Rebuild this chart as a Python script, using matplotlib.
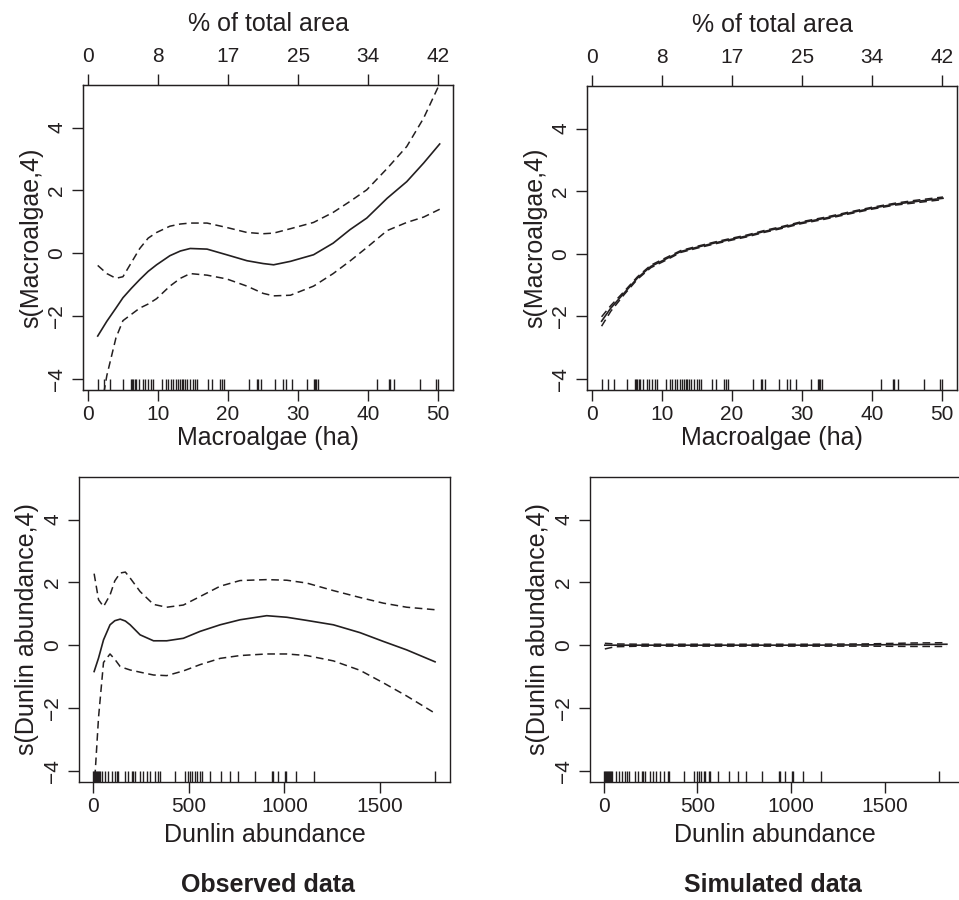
import matplotlib
matplotlib.use('Agg')
import matplotlib.pyplot as plt
import numpy as np

plt.rcParams['font.family'] = ['Liberation Sans', 'DejaVu Sans']
INK = '#231f20'

# Rug positions (shared by observed and simulated panels)
macro_rug = [1.4, 2.3, 3.1, 5.0, 6.1, 6.3, 6.5, 6.7, 6.9, 7.3, 7.8, 8.1, 8.6, 9.0, 9.3,
             10.6, 11.2, 11.5, 11.8, 12.2, 12.5, 12.9, 13.1, 13.4, 13.6, 13.9, 14.1,
             14.5, 15.0, 15.3, 15.5, 17.2, 17.7, 18.9, 19.2, 19.4, 23.0, 24.1, 24.3,
             24.7, 26.7, 27.8, 28.3, 29.1, 31.2, 32.2, 32.4, 32.6, 32.8, 41.2, 42.9,
             43.1, 43.7, 47.4, 49.7, 49.95]
dunlin_rug = [3, 8, 12, 17, 22, 27, 33, 38, 47, 64, 81, 99, 116, 125, 134, 169, 186,
              204, 212, 221, 247, 264, 282, 299, 325, 343, 351, 429, 481, 499, 508,
              517, 534, 543, 560, 569, 612, 668, 717, 760, 847, 935, 943, 969, 1004,
              1009, 1061, 1157, 1787]

# Observed data - macroalgae smooth
obs_macro_x = [1.4, 2.7, 4.0, 5.0, 6.2, 7.4, 8.6, 9.8, 11.7, 13.2, 14.6, 17.0, 19.8,
               22.7, 25.0, 26.5, 28.9, 32.2, 35.0, 37.4, 39.8, 42.7, 45.5, 47.9, 50.2]
obs_macro_fit = [-2.64, -2.17, -1.75, -1.42, -1.12, -0.84, -0.58, -0.37, -0.08, 0.07,
                 0.15, 0.13, -0.05, -0.24, -0.33, -0.37, -0.26, -0.05, 0.32, 0.75,
                 1.12, 1.75, 2.28, 2.87, 3.48]
obs_macro_up = [-0.39, -0.65, -0.80, -0.75, -0.30, 0.15, 0.48, 0.66, 0.86, 0.93, 0.96,
                0.96, 0.82, 0.66, 0.62, 0.64, 0.78, 0.98, 1.30, 1.65, 2.02, 2.70, 3.40,
                4.30, 5.40]
obs_macro_lo = [-5.6, -3.9, -2.7, -2.15, -1.95, -1.75, -1.62, -1.45, -1.05, -0.80,
                -0.65, -0.70, -0.82, -1.05, -1.28, -1.36, -1.34, -1.05, -0.65, -0.25,
                0.18, 0.72, 0.98, 1.15, 1.40]

# Simulated data - macroalgae smooth
sim_macro_x = [1.38, 2.7, 4.6, 6.5, 8.4, 10.3, 12.7, 15.1, 17.5, 19.9, 22.2, 24.6, 27.0,
               29.9, 33.2, 36.5, 39.9, 43.2, 46.0, 50.1]
sim_macro_fit = [-2.16, -1.74, -1.26, -0.78, -0.41, -0.20, 0.07, 0.21, 0.34, 0.46, 0.57,
                 0.71, 0.83, 0.99, 1.13, 1.29, 1.45, 1.58, 1.66, 1.77]
sim_macro_up = [-2.02, -1.66, -1.21, -0.74, -0.37, -0.16, 0.10, 0.24, 0.37, 0.49, 0.60,
                0.74, 0.86, 1.02, 1.16, 1.32, 1.48, 1.61, 1.70, 1.81]
sim_macro_lo = [-2.32, -1.84, -1.31, -0.82, -0.45, -0.24, 0.04, 0.18, 0.31, 0.43, 0.54,
                0.68, 0.80, 0.96, 1.10, 1.26, 1.42, 1.55, 1.62, 1.73]

# Observed data - dunlin smooth
obs_dun_x = [7, 30, 56, 90, 115, 143, 170, 195, 247, 317, 386, 473, 560, 665, 769, 908,
             1013, 1117, 1256, 1395, 1517, 1639, 1787]
obs_dun_fit = [-0.84, -0.41, 0.17, 0.65, 0.78, 0.83, 0.77, 0.65, 0.33, 0.14, 0.14, 0.22,
               0.44, 0.65, 0.81, 0.94, 0.89, 0.79, 0.65, 0.40, 0.12, -0.15, -0.53]
obs_dun_up = [2.28, 1.45, 1.23, 1.60, 2.05, 2.30, 2.33, 2.14, 1.71, 1.30, 1.21, 1.28,
              1.55, 1.88, 2.06, 2.09, 2.07, 1.98, 1.74, 1.52, 1.34, 1.21, 1.13]
obs_dun_lo = [-4.6, -2.3, -0.55, -0.28, -0.45, -0.68, -0.74, -0.79, -0.86, -0.95, -0.97,
              -0.82, -0.62, -0.42, -0.33, -0.28, -0.28, -0.33, -0.50, -0.80, -1.20,
              -1.62, -2.17]

# Simulated data - dunlin smooth
sim_dun_x = [7, 60, 200, 500, 800, 1100, 1400, 1650, 1830]
sim_dun_fit = [0.0, 0.0, 0.0, 0.0, 0.0, 0.0, 0.01, 0.02, 0.03]
sim_dun_up = [0.06, 0.04, 0.03, 0.03, 0.03, 0.03, 0.04, 0.07, 0.08]
sim_dun_lo = [-0.12, -0.05, -0.03, -0.03, -0.03, -0.03, -0.03, -0.04, -0.04]

macro_ticks = [0, 10, 20, 30, 40, 50]
pct_labels = ['0', '8', '17', '25', '34', '42']
dunlin_ticks = [0, 500, 1000, 1500]
y_ticks = [-4, -2, 0, 2, 4]

W, H = 959, 900
LABEL_FS = 18
TICK_FS = 15
fig = plt.figure(figsize=(W / 100, H / 100), dpi=100)


def style_axes(ax):
    for sp in ax.spines.values():
        sp.set_color(INK)
        sp.set_linewidth(1.0)
    ax.tick_params(axis='x', direction='out', length=8, width=1.0, color=INK,
                   labelsize=TICK_FS, labelcolor=INK, pad=3)
    ax.tick_params(axis='y', direction='out', length=8, width=1.0, color=INK,
                   labelsize=TICK_FS, labelcolor=INK, pad=4, labelrotation=90)
    for lab in ax.get_yticklabels():
        lab.set_verticalalignment('center')
    ax.set_ylim(-4.36, 5.36)
    ax.set_yticks(y_ticks)


def draw_smooth(ax, x, fit, up, lo, rug):
    ax.plot(x, fit, color=INK, lw=1.2)
    ax.plot(x, up, color=INK, lw=1.1, ls=(0, (5, 3)))
    ax.plot(x, lo, color=INK, lw=1.1, ls=(0, (5, 3)))
    ax.vlines(rug, 0, 0.036, transform=ax.get_xaxis_transform(), color=INK, lw=1.0)


def macro_panel(rect, x, fit, up, lo):
    ax = fig.add_axes(rect)
    draw_smooth(ax, x, fit, up, lo, macro_rug)
    style_axes(ax)
    ax.set_xlim(-0.7, 52.1)
    ax.set_xticks(macro_ticks)
    ax.set_xlabel('Macroalgae (ha)', fontsize=LABEL_FS, color=INK, labelpad=1)
    ax.set_ylabel('s(Macroalgae,4)', fontsize=LABEL_FS, color=INK, labelpad=3)
    top = ax.twiny()
    top.set_xlim(ax.get_xlim())
    top.set_xticks(macro_ticks)
    top.set_xticklabels(pct_labels)
    top.tick_params(axis='x', direction='out', length=8, width=1.0, color=INK,
                    labelsize=TICK_FS, labelcolor=INK, pad=6)
    for sp in top.spines.values():
        sp.set_color(INK)
    top.set_xlabel('% of total area', fontsize=LABEL_FS, color=INK, labelpad=11)
    return ax


def dunlin_panel(rect, x, fit, up, lo):
    ax = fig.add_axes(rect)
    draw_smooth(ax, x, fit, up, lo, dunlin_rug)
    style_axes(ax)
    ax.set_xlim(-72, 1865)
    ax.set_xticks(dunlin_ticks)
    ax.set_xlabel('Dunlin abundance', fontsize=LABEL_FS, color=INK, labelpad=5)
    ax.set_ylabel('s(Dunlin abundance,4)', fontsize=LABEL_FS, color=INK, labelpad=3)
    return ax


macro_panel([83 / W, 1 - 390 / H, 370 / W, 305 / H],
            obs_macro_x, obs_macro_fit, obs_macro_up, obs_macro_lo)
macro_panel([587 / W, 1 - 390 / H, 370 / W, 304 / H],
            sim_macro_x, sim_macro_fit, sim_macro_up, sim_macro_lo)
dunlin_panel([79 / W, 1 - 782 / H, 371 / W, 305 / H],
             obs_dun_x, obs_dun_fit, obs_dun_up, obs_dun_lo)
ax_br = dunlin_panel([590 / W, 1 - 782 / H, 370 / W, 305 / H],
                     sim_dun_x, sim_dun_fit, sim_dun_up, sim_dun_lo)
ax_br.set_xlim(-72, 1900)

fig.text(268 / W, 1 - 885 / H, 'Observed data', ha='center', va='center',
         fontsize=LABEL_FS, fontweight='bold', color=INK)
fig.text(773 / W, 1 - 885 / H, 'Simulated data', ha='center', va='center',
         fontsize=LABEL_FS, fontweight='bold', color=INK)

fig.savefig('out.png', dpi=100)
